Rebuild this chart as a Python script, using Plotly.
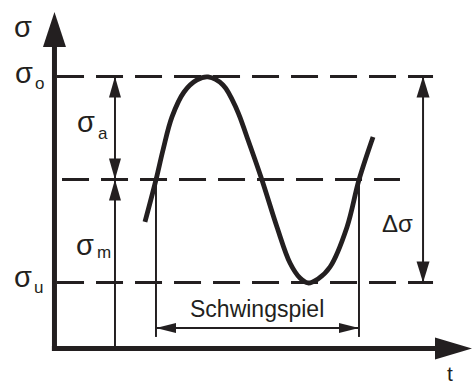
import plotly.graph_objects as go

# Stress levels of the cyclic load (arbitrary stress units)
sigma_m = 1.64                 # mean stress
sigma_a = 1.00                 # stress amplitude
sigma_o = sigma_m + sigma_a    # upper stress
sigma_u = sigma_m - sigma_a    # lower stress

# Stress history over time: one full load cycle with a short lead-in / lead-out
t_curve = [0.887, 0.995, 1.064, 1.152, 1.270, 1.397, 1.505, 1.652, 1.789, 1.887,
           2.034, 2.181, 2.309, 2.407, 2.485, 2.583, 2.701, 2.868, 2.985, 3.123]
s_curve = [1.228, 1.636, 1.927, 2.248, 2.490, 2.607, 2.636, 2.558, 2.316, 2.053,
           1.636, 1.180, 0.830, 0.684, 0.636, 0.675, 0.791, 1.180, 1.636, 2.053]

# Start and end of the load cycle (upward mean crossings)
t_cycle = [0.995, 2.985]

# Axis extents and dimension-line placement (layout)
T_MIN, T_MAX = -0.534, 4.093
S_MIN, S_MAX = -0.374, 3.383
T_ARROW_TIP, S_ARROW_TIP = 4.093, 3.267
T_AMP_DIM = 0.593        # sigma_a / sigma_m dimension line
T_RANGE_DIM = 3.613      # delta sigma dimension line
S_CYCLE_DIM = 0.199      # "Schwingspiel" dimension line
S_CYCLE_FOOT = 0.112     # lower end of the cycle extension lines
LEVEL_SPAN = (0.025, 3.711)
MEAN_SPAN = (0.074, 3.387)

INK = "#231f20"
FONT = "Liberation Sans, Arial, sans-serif"

shapes = []


def line(x0, y0, x1, y1, width, dash="solid", layer="above"):
    shapes.append(dict(type="line", xref="x", yref="y", x0=x0, y0=y0, x1=x1, y1=y1,
                       line=dict(color=INK, width=width, dash=dash), layer=layer))


def head(x, y, direction, length, half):
    # filled triangular arrow head, sized in pixels, tip at (x, y)
    if direction == "up":
        p = f"M0,0 L{-half},{-length} L{half},{-length} Z"
    elif direction == "down":
        p = f"M0,0 L{-half},{length} L{half},{length} Z"
    elif direction == "right":
        p = f"M0,0 L{-length},{-half} L{-length},{half} Z"
    else:
        p = f"M0,0 L{length},{-half} L{length},{half} Z"
    shapes.append(dict(type="path", xref="x", yref="y", xsizemode="pixel", ysizemode="pixel",
                       xanchor=x, yanchor=y, path=p, fillcolor=INK, line=dict(width=0)))


# Horizontal reference levels
for lvl, span in ((sigma_o, LEVEL_SPAN), (sigma_m, MEAN_SPAN), (sigma_u, LEVEL_SPAN)):
    line(span[0], lvl, span[1], lvl, 3, dash="27px,12px", layer="below")

# Coordinate axes with arrow heads
line(0, -0.025, 0, S_ARROW_TIP - 0.3, 5)
head(0, S_ARROW_TIP, "up", 35, 11.5)
line(-0.025, 0, T_ARROW_TIP - 0.33, 0, 5)
head(T_ARROW_TIP, 0, "right", 37, 11)

# sigma_a and sigma_m dimensions
line(T_AMP_DIM, sigma_o, T_AMP_DIM, sigma_m, 2)
head(T_AMP_DIM, sigma_o, "up", 21, 6)
head(T_AMP_DIM, sigma_m, "down", 21, 6)
line(T_AMP_DIM, 0, T_AMP_DIM, sigma_m, 2)
head(T_AMP_DIM, sigma_m, "up", 21, 6)

# Stress range dimension
line(T_RANGE_DIM, sigma_o, T_RANGE_DIM, sigma_u, 2)
head(T_RANGE_DIM, sigma_o, "up", 21, 6.5)
head(T_RANGE_DIM, sigma_u, "down", 21, 6.5)

# Load cycle dimension
for tc in t_cycle:
    line(tc, sigma_m, tc, S_CYCLE_FOOT, 2)
line(t_cycle[0], S_CYCLE_DIM, t_cycle[1], S_CYCLE_DIM, 2)
head(t_cycle[0], S_CYCLE_DIM, "left", 20, 5)
head(t_cycle[1], S_CYCLE_DIM, "right", 20, 5)

fig = go.Figure()
fig.add_trace(go.Scatter(x=t_curve, y=s_curve, mode="lines",
                         line=dict(color=INK, width=4.8, shape="spline", smoothing=1.0),
                         hoverinfo="skip", showlegend=False))


def label(text, x, y, dx, dy, size, yanchor="middle"):
    return dict(text=text, x=x, y=y, xref="x", yref="y", xshift=dx, yshift=dy,
                xanchor="center", yanchor=yanchor, showarrow=False,
                font=dict(family=FONT, size=size, color=INK))


t_mid = (t_cycle[0] + t_cycle[1]) / 2
annotations = [
    label("σ", 0, S_ARROW_TIP, -31.5, -15.5, 29),
    label("σ", 0, sigma_o, -30.5, 3.5, 29),
    label("o", 0, sigma_o, -15, -6.5, 17),
    label("σ", 0, sigma_u, -31.5, 5.5, 29),
    label("u", 0, sigma_u, -16, -5, 17),
    label("σ", T_AMP_DIM, (sigma_o + sigma_m) / 2, -28.5, 6, 29),
    label("a", T_AMP_DIM, (sigma_o + sigma_m) / 2, -11.5, -5, 17),
    label("σ", T_AMP_DIM, sigma_m / 2, -30, 19.5, 29),
    label("m", T_AMP_DIM, sigma_m / 2, -11, 11.5, 17),
    label("Δσ", T_RANGE_DIM, sigma_m, -26, -44, 24),
    label("Schwingspiel", t_mid, S_CYCLE_DIM, 0, 19, 23),
    label("t", T_ARROW_TIP, S_MIN, -22, 0, 21, yanchor="bottom"),
]

fig.update_layout(
    width=472, height=387, autosize=False,
    margin=dict(l=0, r=0, t=0, b=0, pad=0),
    paper_bgcolor="white", plot_bgcolor="white",
    xaxis=dict(range=[T_MIN, T_MAX], visible=False, fixedrange=True),
    yaxis=dict(range=[S_MIN, S_MAX], visible=False, fixedrange=True),
    shapes=shapes, annotations=annotations, showlegend=False,
)

fig.write_html("out.html", config={"displayModeBar": False})
